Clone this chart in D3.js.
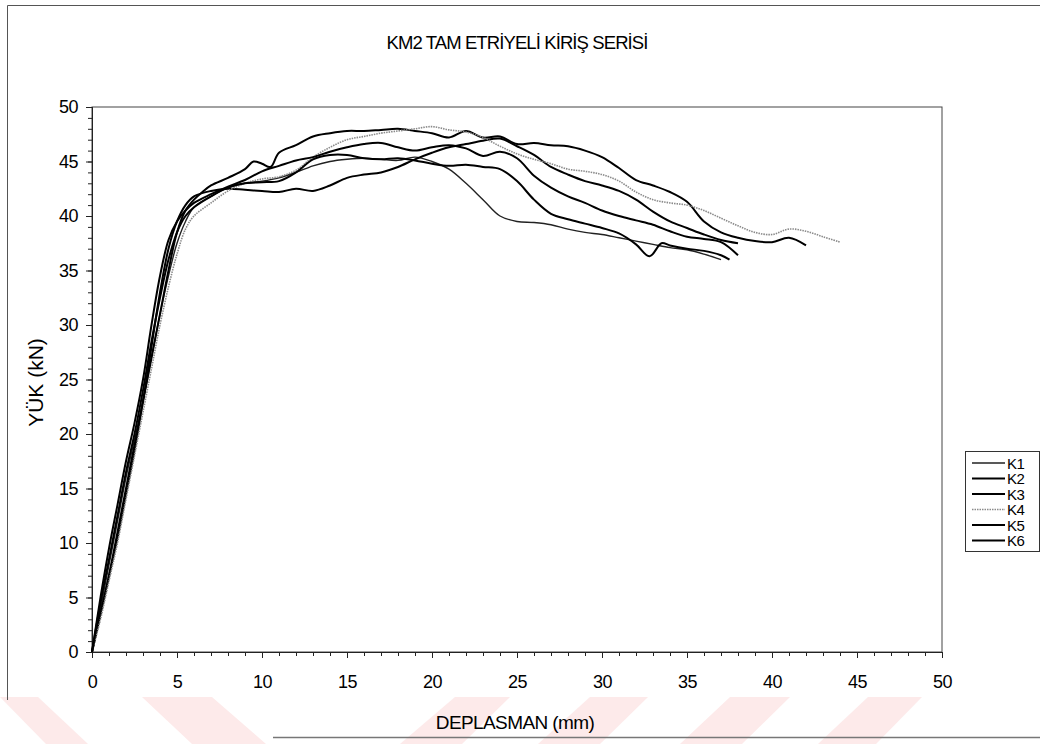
<!DOCTYPE html>
<html>
<head>
<meta charset="utf-8">
<script src="https://cdn.jsdelivr.net/npm/d3@7"></script>
<style>
  body { margin: 0; background: #fff; }
  text { font-family: "Liberation Sans", Arial, sans-serif; fill: #000; }
</style>
</head>
<body>
<div id="chart"></div>
<script>
const fig_width = 1044
const fig_height = 744

// values: deplasman (mm) and yük (kN) per test beam
const k1_x = [0, 0.5, 1, 1.5, 2, 2.5, 3, 3.5, 4, 4.5, 5, 5.5, 6, 7, 8, 9, 10, 11, 12, 13, 14, 15, 16, 17, 18, 19, 20, 21, 22, 23, 24, 25, 26, 27, 28, 29, 30, 31, 32, 33, 34, 35, 36, 37]
const k1_y = [0, 4, 8, 12, 16, 19.5, 23, 27, 31, 34.5, 37.5, 39.5, 40.8, 41.8, 42.6, 43, 43.2, 43.5, 44, 44.6, 45, 45.2, 45.3, 45.2, 45.1, 45.4, 45, 44.3, 43, 41.5, 40, 39.5, 39.4, 39.2, 38.8, 38.5, 38.3, 38, 37.7, 37.4, 37.1, 36.9, 36.5, 36]

const k2_x = [0, 0.5, 1, 1.5, 2, 2.5, 3, 3.5, 4, 4.5, 5, 5.5, 6, 6.5, 7, 8, 9, 9.5, 10, 10.5, 11, 12, 13, 14, 15, 16, 17, 18, 19, 20, 21, 22, 23, 24, 25, 26, 27, 28, 29, 30, 31, 32, 33, 34, 35, 36, 37, 38, 39, 40, 41, 42]
const k2_y = [0, 3.5, 7, 11, 15, 19, 23, 27, 31, 35, 38.5, 40.5, 41.5, 42.2, 42.8, 43.5, 44.3, 45, 44.8, 44.5, 45.8, 46.5, 47.3, 47.6, 47.8, 47.8, 47.9, 48, 47.8, 47.6, 47.2, 47.8, 47.2, 47.3, 46.6, 46.7, 46.5, 46.4, 46, 45.4, 44.4, 43.3, 42.8, 42.2, 41.3, 39.5, 38.5, 38, 37.7, 37.6, 38, 37.3]

const k3_x = [0, 0.5, 1, 1.5, 2, 2.5, 3, 3.5, 4, 4.5, 5, 5.5, 6, 7, 8, 9, 10, 11, 12, 13, 14, 15, 16, 17, 18, 19, 20, 21, 22, 23, 24, 25, 26, 27, 28, 29, 30, 31, 32, 33, 34, 35, 36, 37, 38]
const k3_y = [0, 3.5, 7, 10.5, 14.5, 18.5, 23, 28, 33, 37, 39.5, 41, 41.8, 42.3, 42.5, 42.4, 42.3, 42.2, 42.5, 42.3, 42.8, 43.5, 43.8, 44, 44.5, 45.2, 45.8, 46.3, 46.6, 46.9, 47.1, 46.4, 45.6, 44.5, 43.8, 43.2, 42.8, 42.3, 41.5, 40.4, 39.5, 38.9, 38.3, 37.8, 37.5]

const k4_x = [0, 0.5, 1, 1.5, 2, 2.5, 3, 3.5, 4, 4.5, 5, 5.5, 6, 7, 8, 9, 10, 11, 12, 13, 14, 15, 16, 17, 18, 19, 20, 21, 22, 23, 24, 25, 26, 27, 28, 29, 30, 31, 32, 33, 34, 35, 36, 37, 38, 39, 40, 41, 42, 43, 44]
const k4_y = [0, 3, 6.5, 10, 14, 18, 22, 26, 30, 33.5, 36.5, 38.8, 40, 41.2, 42.3, 43, 43.4, 43.6, 44.2, 45.4, 46.3, 47, 47.3, 47.6, 47.8, 48, 48.2, 47.9, 47.7, 47.2, 46.4, 45.7, 45.2, 44.8, 44.3, 44.1, 43.8, 43.2, 42.2, 41.5, 41.2, 41, 40.5, 39.8, 39.1, 38.5, 38.3, 38.8, 38.6, 38.1, 37.6]

const k5_x = [0, 0.5, 1, 1.5, 2, 2.5, 3, 3.5, 4, 4.5, 5, 5.5, 6, 7, 8, 9, 10, 11, 12, 13, 14, 15, 16, 17, 18, 19, 20, 21, 22, 23, 24, 25, 26, 27, 28, 29, 30, 31, 32, 32.8, 33.5, 34, 35, 36, 37, 37.5]
const k5_y = [0, 4.5, 8.5, 12.5, 16.5, 20, 24, 28.5, 32.5, 36, 38.5, 40, 40.8, 41.8, 42.6, 43, 43.1, 43.2, 44, 45.2, 45.6, 45.6, 45.3, 45.2, 45.3, 45.1, 44.8, 44.6, 44.7, 44.5, 44.3, 43.2, 41.5, 40.2, 39.7, 39.3, 38.9, 38.4, 37.4, 36.3, 37.5, 37.3, 37, 36.8, 36.4, 36]

const k6_x = [0, 0.5, 1, 1.5, 2, 2.5, 3, 3.5, 4, 4.5, 5, 5.5, 6, 7, 8, 9, 10, 11, 12, 13, 14, 15, 16, 17, 18, 19, 20, 21, 22, 23, 24, 25, 26, 27, 28, 29, 30, 31, 32, 33, 34, 35, 36, 37, 38]
const k6_y = [0, 5, 9.5, 13.5, 17.5, 21, 25, 30, 34.5, 37.8, 39.5, 40.5, 41.2, 42, 42.7, 43.3, 44.1, 44.6, 45.1, 45.4, 45.9, 46.3, 46.6, 46.7, 46.3, 46, 46.3, 46.5, 46.2, 45.5, 45.9, 45.3, 43.7, 42.6, 41.8, 41.2, 40.5, 40, 39.6, 39.2, 38.6, 38.1, 37.9, 37.6, 36.4]

const series_names = ['K1', 'K2', 'K3', 'K4', 'K5', 'K6']
const x_ticks = [0, 5, 10, 15, 20, 25, 30, 35, 40, 45, 50]
const y_ticks = [0, 5, 10, 15, 20, 25, 30, 35, 40, 45, 50]

const series = [
    {name: series_names[0], xs: k1_x, ys: k1_y, colour: '#222', width: 1.4, dash: null},
    {name: series_names[1], xs: k2_x, ys: k2_y, colour: '#000', width: 2, dash: null},
    {name: series_names[2], xs: k3_x, ys: k3_y, colour: '#000', width: 2, dash: null},
    {name: series_names[3], xs: k4_x, ys: k4_y, colour: '#8a8a8a', width: 1.6, dash: '1.5,1'},
    {name: series_names[4], xs: k5_x, ys: k5_y, colour: '#000', width: 2, dash: null},
    {name: series_names[5], xs: k6_x, ys: k6_y, colour: '#000', width: 2, dash: null}
]

const plot = {left: 92, right: 942, top: 107, bottom: 652}

let xScale = d3.scaleLinear().domain([0, 50]).range([plot.left, plot.right])
let yScale = d3.scaleLinear().domain([0, 50]).range([plot.bottom, plot.top])

let fig = d3.select('#chart')
    .append('svg')
    .attr('width', fig_width)
    .attr('height', fig_height)

fig.append('rect')
    .attr('width', fig_width)
    .attr('height', fig_height)
    .attr('fill', '#fff')

// pale red watermark stripes at the bottom of the scanned page
const stripes = [
    [[0, 697], [38, 697], [88, 744], [46, 744]],
    [[142, 697], [212, 697], [266, 744], [192, 744]],
    [[455, 697], [510, 697], [462, 744], [400, 744]],
    [[590, 697], [648, 697], [600, 744], [538, 744]],
    [[730, 697], [790, 697], [742, 744], [680, 744]],
    [[868, 697], [922, 697], [876, 744], [818, 744]]
]
fig.selectAll('polygon.stripe')
    .data(stripes)
    .join('polygon')
    .attr('class', 'stripe')
    .attr('points', d => d.map(p => p.join(',')).join(' '))
    .attr('fill', '#fdeaea')

// outer chart frame (partly faded in the scan)
fig.append('path')
    .attr('d', 'M7.5,700 V5.5 H1040')
    .attr('fill', 'none')
    .attr('stroke', '#555')
    .attr('stroke-width', 1)
fig.append('path')
    .attr('d', 'M273,737.5 H1040')
    .attr('fill', 'none')
    .attr('stroke', '#777')
    .attr('stroke-width', 1.5)

// plot area box
fig.append('rect')
    .attr('x', plot.left)
    .attr('y', plot.top)
    .attr('width', plot.right - plot.left)
    .attr('height', plot.bottom - plot.top)
    .attr('fill', 'none')
    .attr('stroke', '#444')
    .attr('stroke-width', 1)

// axes: major ticks every 5, minor every 1
let xAxis = d3.axisBottom(xScale).tickValues(x_ticks).tickSize(6).tickPadding(17)
let xMinor = d3.axisBottom(xScale).tickValues(d3.range(0, 51, 1)).tickSize(4).tickFormat('')
let yAxis = d3.axisLeft(yScale).tickValues(y_ticks).tickSize(6).tickPadding(8)
let yMinor = d3.axisLeft(yScale).tickValues(d3.range(0, 51, 1)).tickSize(4).tickFormat('')

fig.append('g').attr('transform', `translate(0,${plot.bottom})`).call(xMinor)
fig.append('g').attr('class', 'xaxis').attr('transform', `translate(0,${plot.bottom})`).call(xAxis)
fig.append('g').attr('transform', `translate(${plot.left},0)`).call(yMinor)
fig.append('g').attr('class', 'yaxis').attr('transform', `translate(${plot.left},0)`).call(yAxis)

fig.selectAll('.domain').attr('stroke', '#222')
fig.selectAll('.tick line').attr('stroke', '#222')
fig.selectAll('.xaxis text, .yaxis text')
    .style('font-size', '18px')
    .style('font-family', '"Liberation Sans", Arial, sans-serif')
    .style('letter-spacing', '-0.5px')
    .attr('fill', '#000')

// curves
let line = d3.line()
    .x(d => xScale(d[0]))
    .y(d => yScale(d[1]))
    .curve(d3.curveCatmullRom.alpha(0.5))

fig.append('g')
    .selectAll('path.curve')
    .data(series)
    .join('path')
    .attr('class', 'curve')
    .attr('d', s => line(s.xs.map((x, i) => [x, s.ys[i]])))
    .attr('fill', 'none')
    .attr('stroke', s => s.colour)
    .attr('stroke-width', s => s.width)
    .attr('stroke-dasharray', s => s.dash)
    .attr('stroke-linejoin', 'round')

// titles
fig.append('text')
    .attr('x', 517)
    .attr('y', 49)
    .attr('text-anchor', 'middle')
    .style('font-size', '18.5px')
    .style('letter-spacing', '-0.9px')
    .text('KM2 TAM ETRİYELİ KİRİŞ SERİSİ')

fig.append('text')
    .attr('x', 515)
    .attr('y', 729)
    .attr('text-anchor', 'middle')
    .style('font-size', '19px')
    .style('letter-spacing', '-0.6px')
    .text('DEPLASMAN (mm)')

fig.append('text')
    .attr('transform', `translate(43,${(plot.top + plot.bottom) / 2 + 3}) rotate(-90)`)
    .attr('text-anchor', 'middle')
    .style('font-size', '21px')
    .text('YÜK (kN)')

// legend
const legend_top = 451
const legend_row = 15.5
let legend = fig.append('g')
legend.append('rect')
    .attr('x', 965.5)
    .attr('y', legend_top + 0.5)
    .attr('width', 74)
    .attr('height', 100)
    .attr('fill', '#fff')
    .attr('stroke', '#333')
    .attr('stroke-width', 1)

let items = legend.selectAll('g.item')
    .data(series)
    .join('g')
    .attr('class', 'item')
    .attr('transform', (d, i) => `translate(0,${legend_top + 12 + i * legend_row})`)
items.append('line')
    .attr('x1', 972).attr('x2', 1005)
    .attr('y1', 0).attr('y2', 0)
    .attr('stroke', s => s.colour)
    .attr('stroke-width', s => s.width)
    .attr('stroke-dasharray', s => s.dash)
items.append('text')
    .attr('x', 1007)
    .attr('y', 5.5)
    .style('font-size', '15px')
    .style('letter-spacing', '-0.6px')
    .text(s => s.name)
</script>
</body>
</html>
